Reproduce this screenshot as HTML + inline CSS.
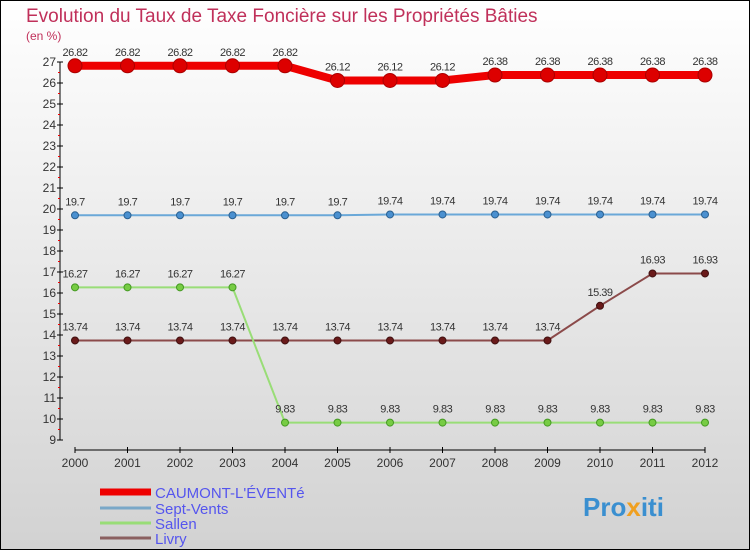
<!DOCTYPE html>
<html><head><meta charset="utf-8"><style>
body{margin:0}
svg{display:block;font-family:"Liberation Sans",sans-serif}
</style></head><body>
<svg id="c" width="750" height="550" xmlns="http://www.w3.org/2000/svg">
<defs><linearGradient id="bg" x1="0" y1="0" x2="0" y2="1"><stop offset="0" stop-color="#ffffff"/><stop offset="1" stop-color="#d2d2d2"/></linearGradient></defs>
<rect x="0.5" y="0.5" width="749" height="549" fill="url(#bg)" stroke="#000"/>
<text x="26" y="22" font-size="19" fill="#c0305a">Evolution du Taux de Taxe Foncière sur les Propriétés Bâties</text>
<text x="26" y="40" font-size="12" fill="#c0305a">(en %)</text>
<g id="axes"></g>
<g id="series"></g>
<g id="legend"></g>
<text x="583" y="516" font-size="26" font-weight="bold" fill="#3a8fd0">Pro<tspan fill="#f0a020">x</tspan>iti</text>
</svg>
<script>
const years=[2000,2001,2002,2003,2004,2005,2006,2007,2008,2009,2010,2011,2012];
const yTicks=[9,10,11,12,13,14,15,16,17,18,19,20,21,22,23,24,25,26,27];
const caumont=[26.82,26.82,26.82,26.82,26.82,26.12,26.12,26.12,26.38,26.38,26.38,26.38,26.38];
const septVents=[19.7,19.7,19.7,19.7,19.7,19.7,19.74,19.74,19.74,19.74,19.74,19.74,19.74];
const sallen=[16.27,16.27,16.27,16.27,9.83,9.83,9.83,9.83,9.83,9.83,9.83,9.83,9.83];
const livry=[13.74,13.74,13.74,13.74,13.74,13.74,13.74,13.74,13.74,13.74,15.39,16.93,16.93];
const NS="http://www.w3.org/2000/svg";
const X=i=>75+i*52.5;
const Y=v=>440-(v-9)*21;
function mk(p,t,a){const e=document.createElementNS(NS,t);for(const k in a)e.setAttribute(k,a[k]);p.appendChild(e);return e;}
const ax=document.getElementById('axes');
let l=mk(ax,'line',{x1:60,y1:Y(27),x2:60,y2:Y(9),stroke:'#000'});


yTicks.forEach(v=>{
 mk(ax,'line',{x1:57,y1:Y(v),x2:63,y2:Y(v),stroke:'#000'});
 if(v<27) mk(ax,'line',{x1:58,y1:Y(v+0.5),x2:60,y2:Y(v+0.5),stroke:'#e00'});
 const t=mk(ax,'text',{x:56,y:Y(v)+4,'font-size':12,'text-anchor':'end',fill:'#333'});
 t.textContent=v;
 
 
});
l=mk(ax,'line',{x1:75,y1:450,x2:705,y2:450,stroke:'#000'});


years.forEach((y,i)=>{
 mk(ax,'line',{x1:X(i),y1:447,x2:X(i),y2:453,stroke:'#000'});
 const t=mk(ax,'text',{x:X(i),y:467,'font-size':12,'text-anchor':'middle',fill:'#333'});
 t.textContent=y;
 
 
});
const sg=document.getElementById('series');
function series(name,data,color,w,r,dot,dotStroke){
 const g=mk(sg,'g',{});
 
 
 mk(g,'polyline',{points:data.map((v,i)=>X(i)+','+Y(v)).join(' '),fill:'none',stroke:color,'stroke-width':w});
 data.forEach((v,i)=>{
  const c=mk(g,'circle',{cx:X(i),cy:Y(v),r:r,fill:dot,stroke:dotStroke,'stroke-width':1});
  
  
  const t=mk(g,'text',{x:X(i),y:Y(v)-10,'font-size':11,'text-anchor':'middle',fill:'#333','letter-spacing':'-0.5'});
  t.textContent=v;
  
  
 });
}
series('livry',livry,'#8b4a4a',2,3.5,'#6a1a1a','#401010');
series('sallen',sallen,'#99dd77',2,3.5,'#77cc44','#449922');
series('sept-vents',septVents,'#6aa8d8',2,3.5,'#4a90d0','#2a6090');
series('caumont',caumont,'#ee0000',8,7,'#dd0000','#aa0000');
const lg=document.getElementById('legend');
const items=[['CAUMONT-L\'ÉVENTé','#ee0000',7,492],['Sept-Vents','#7aa8c8',3,508],['Sallen','#99dd77',3,523],['Livry','#8b6060',3,538]];
items.forEach(it=>{
 const g=mk(lg,'g',{});
 
 
 mk(g,'line',{x1:100,y1:it[3],x2:151,y2:it[3],stroke:it[1],'stroke-width':it[2]});
 const t=mk(g,'text',{x:155,y:it[3]+6,'font-size':15,fill:'#5555ee'});
 t.textContent=it[0];
});
</script>
</body></html>
